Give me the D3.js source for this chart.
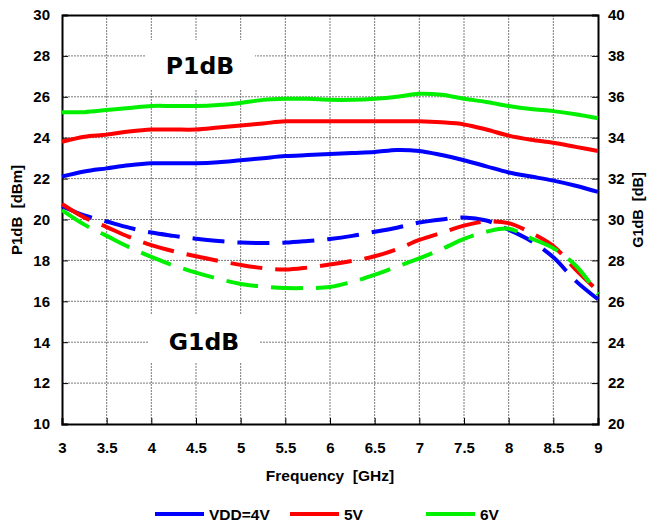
<!DOCTYPE html>
<html>
<head>
<meta charset="utf-8">
<script src="https://cdn.jsdelivr.net/npm/d3@7"></script>
<style>
  body { margin: 0; background: #fff; }
  svg text { font-family: "Liberation Sans", Arial, sans-serif; font-weight: bold; fill: #000; }
</style>
</head>
<body>
<svg id="chart" width="648" height="522"></svg>
<script>
// frequency points [GHz]
const freq = [3, 3.25, 3.5, 3.75, 4, 4.25, 4.5, 4.75, 5, 5.25, 5.5, 5.75, 6,
  6.25, 6.5, 6.75, 7, 7.25, 7.5, 7.75, 8, 8.25, 8.5, 8.75, 9];

// P1dB [dBm], left axis
const p1dB_4V = [22.1, 22.35, 22.5, 22.65, 22.75, 22.75, 22.75, 22.8, 22.9, 23.0, 23.1, 23.15, 23.2,
  23.25, 23.3, 23.4, 23.35, 23.15, 22.9, 22.6, 22.3, 22.1, 21.9, 21.65, 21.35];
const p1dB_5V = [23.8, 24.05, 24.15, 24.3, 24.4, 24.4, 24.4, 24.5, 24.6, 24.7, 24.8, 24.8, 24.8,
  24.8, 24.8, 24.8, 24.8, 24.75, 24.65, 24.4, 24.1, 23.9, 23.75, 23.55, 23.35];
const p1dB_6V = [25.25, 25.25, 25.35, 25.45, 25.55, 25.55, 25.55, 25.6, 25.7, 25.85, 25.9, 25.9, 25.85,
  25.85, 25.9, 26.0, 26.15, 26.1, 25.9, 25.75, 25.55, 25.4, 25.3, 25.15, 24.95];

// G1dB [dB], right axis
const g1dB_4V = [30.65, 30.2, 29.9, 29.6, 29.36, 29.2, 29.06, 28.95, 28.87, 28.85, 28.87, 28.95, 29.05,
  29.2, 29.4, 29.6, 29.85, 30.0, 30.1, 29.95, 29.5, 28.95, 28.15, 27.0, 26.1];
const g1dB_5V = [30.76, 30.1, 29.63, 29.15, 28.75, 28.45, 28.2, 27.98, 27.78, 27.62, 27.55, 27.65, 27.8,
  27.98, 28.2, 28.55, 29.0, 29.35, 29.7, 29.9, 29.82, 29.35, 28.7, 27.55, 26.5];
const g1dB_6V = [30.46, 29.75, 29.2, 28.65, 28.17, 27.75, 27.4, 27.1, 26.85, 26.72, 26.65, 26.65, 26.7,
  26.95, 27.3, 27.7, 28.1, 28.55, 29.05, 29.4, 29.55, 29.08, 28.6, 27.75, 26.35];

const seriesNames = ['VDD=4V', '5V', '6V'];
const seriesColors = ['#0000ff', '#ff0000', '#00f000'];

const xTicks = [3, 3.5, 4, 4.5, 5, 5.5, 6, 6.5, 7, 7.5, 8, 8.5, 9];
const yLeftTicks = [10, 12, 14, 16, 18, 20, 22, 24, 26, 28, 30];
const yRightTicks = [20, 22, 24, 26, 28, 30, 32, 34, 36, 38, 40];

const svg = d3.select('svg#chart');
const plot = {left: 62, right: 598, top: 15, bottom: 424};

const x = d3.scaleLinear().domain([3, 9]).range([plot.left, plot.right]);
const yL = d3.scaleLinear().domain([10, 30]).range([plot.bottom, plot.top]);
const yR = d3.scaleLinear().domain([20, 40]).range([plot.bottom, plot.top]);

// grid
const grid = svg.append('g');
grid.selectAll('line.v').data(xTicks.slice(1, -1)).join('line')
  .attr('x1', d => x(d)).attr('x2', d => x(d))
  .attr('y1', plot.top).attr('y2', plot.bottom);
grid.selectAll('line.h').data(yLeftTicks.slice(1, -1)).join('line')
  .attr('y1', d => yL(d)).attr('y2', d => yL(d))
  .attr('x1', plot.left).attr('x2', plot.right);
grid.selectAll('line')
  .attr('stroke', '#7a7a7a').attr('stroke-width', 1).attr('stroke-dasharray', '2,1');

// white boxes behind the big labels
svg.append('rect').attr('x', 145).attr('y', 40).attr('width', 110).attr('height', 50).attr('fill', '#fff');
svg.append('rect').attr('x', 148).attr('y', 315).attr('width', 112).attr('height', 48).attr('fill', '#fff');

// axes
const fmt = d => d3.format('')(d);
svg.append('g').attr('transform', `translate(0,${plot.bottom})`)
  .call(d3.axisBottom(x).tickValues(xTicks).tickSize(-6).tickPadding(18).tickFormat(fmt));
svg.append('g').attr('transform', `translate(0,${plot.top})`)
  .call(d3.axisTop(x).tickValues(xTicks).tickSize(0).tickFormat(''));
svg.append('g').attr('transform', `translate(${plot.left},0)`)
  .call(d3.axisLeft(yL).tickValues(yLeftTicks).tickSize(-6).tickPadding(12));
svg.append('g').attr('transform', `translate(${plot.right},0)`)
  .call(d3.axisRight(yR).tickValues(yRightTicks).tickSize(-6).tickPadding(10));

svg.selectAll('.domain').attr('stroke', '#000').attr('stroke-width', 2);
svg.selectAll('.tick line').attr('stroke', '#000').attr('stroke-width', 1);
svg.selectAll('.tick text').attr('font-size', 15).attr('font-family', '"Liberation Sans", Arial, sans-serif')
  .attr('font-weight', 'bold').attr('fill', '#000');

// curves
const line = d3.line().curve(d3.curveCatmullRom);
const pSeries = [p1dB_4V, p1dB_5V, p1dB_6V];
const gSeries = [g1dB_4V, g1dB_5V, g1dB_6V];

gSeries.forEach((vals, i) => {
  svg.append('path')
    .attr('d', line(vals.map((v, j) => [x(freq[j]), yR(v)])))
    .attr('fill', 'none').attr('stroke', seriesColors[i])
    .attr('stroke-width', 4).attr('stroke-dasharray', '32,13');
});
pSeries.forEach((vals, i) => {
  svg.append('path')
    .attr('d', line(vals.map((v, j) => [x(freq[j]), yL(v)])))
    .attr('fill', 'none').attr('stroke', seriesColors[i])
    .attr('stroke-width', 4);
});

// labels
svg.append('text').attr('x', 200).attr('y', 74).attr('text-anchor', 'middle')
  .style('font-family', '"DejaVu Sans", Verdana, sans-serif').attr('font-size', 23.5).text('P1dB');
svg.append('text').attr('x', 204).attr('y', 350).attr('text-anchor', 'middle')
  .style('font-family', '"DejaVu Sans", Verdana, sans-serif').attr('font-size', 23.5).text('G1dB');

svg.append('text').attr('x', 330).attr('y', 481).attr('text-anchor', 'middle')
  .attr('font-size', 15.5).attr('xml:space', 'preserve').text('Frequency  [GHz]');
svg.append('text').attr('transform', 'translate(22,210) rotate(-90)').attr('text-anchor', 'middle')
  .attr('font-size', 15).attr('xml:space', 'preserve').text('P1dB  [dBm]');
svg.append('text').attr('transform', 'translate(643,210) rotate(-90)').attr('text-anchor', 'middle')
  .attr('font-size', 14.5).attr('xml:space', 'preserve').text('G1dB  [dB]');

// legend
const legendX = [155, 290, 426];
const legend = svg.append('g');
seriesNames.forEach((name, i) => {
  legend.append('line').attr('x1', legendX[i]).attr('x2', legendX[i] + 49)
    .attr('y1', 514).attr('y2', 514).attr('stroke', seriesColors[i]).attr('stroke-width', 4);
  legend.append('text').attr('x', legendX[i] + 54).attr('y', 520)
    .attr('font-size', 15.5).text(name);
});
</script>
</body>
</html>
